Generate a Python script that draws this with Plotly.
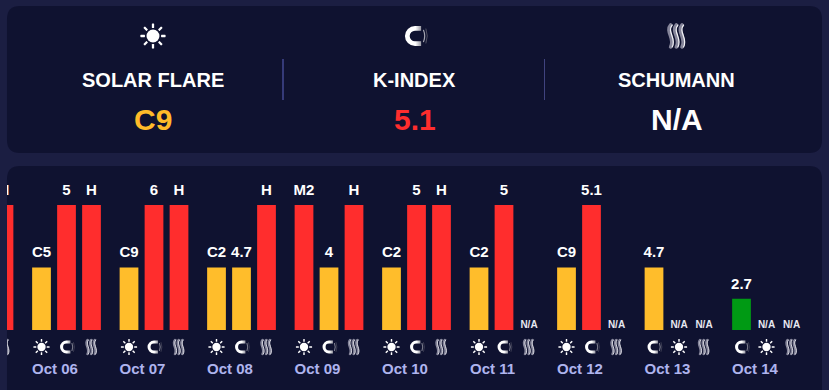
import base64
import plotly.graph_objects as go

W, H = 829, 390

# ---------- data ----------
dates = ["Oct 05", "Oct 06", "Oct 07", "Oct 08", "Oct 09", "Oct 10", "Oct 11", "Oct 12", "Oct 13", "Oct 14"]
slot1_labels = [None, "C5", "C9", "C2", "M2", "C2", "C2", "C9", "4.7", "2.7"]
slot2_labels = [None, "5", "6", "4.7", "4", "5", "5", "5.1", "N/A", "N/A"]
slot3_labels = ["H", "H", "H", "H", "H", "H", "N/A", "N/A", "N/A", "N/A"]
slot1_levels = [None, 2, 2, 2, 4, 2, 2, 2, 2, 1]
slot2_levels = [None, 4, 4, 2, 2, 4, 4, 4, 0, 0]
slot3_levels = [4, 4, 4, 4, 4, 4, 0, 0, 0, 0]
slot1_icons = [None, "sun", "sun", "sun", "sun", "sun", "sun", "sun", "magnet", "magnet"]
slot2_icons = [None, "magnet", "magnet", "magnet", "magnet", "magnet", "magnet", "magnet", "sun", "sun"]
slot3_icons = ["waves"] * 10
summary_titles = ["SOLAR FLARE", "K-INDEX", "SCHUMANN"]
summary_values = ["C9", "5.1", "N/A"]
summary_colors = ["#ffbb29", "#ff2d2d", "#ffffff"]
summary_icons = ["sun", "magnet", "waves"]

# ---------- style ----------
PAGE = "#1b1e42"
CARD = "#0f1230"
RED = "#ff2d2d"
AMBER = "#ffbd2b"
GREEN = "#009a14"
DATE = "#aeb4ee"
FONT = "Liberation Sans, Arial, sans-serif"
LEVEL_COLORS = {4: RED, 2: AMBER, 1: GREEN, 0: CARD}
PLOT_L, PLOT_R, PLOT_T, PLOT_B = 7, 822, 166, 358
ZERO_Y, LEVEL_PX = 330, 31.25
X0, SLOT_PX, SLOTS_PER_DAY = 41.5, 25, 3.5
LABEL_GAP_PX = 6.5


def svg_uri(body):
    svg = f'<svg xmlns="http://www.w3.org/2000/svg" viewBox="0 0 32 32">{body}</svg>'
    return "data:image/svg+xml;base64," + base64.b64encode(svg.encode()).decode()


rays = "".join(
    f'<rect x="14.7" y="1.6" width="2.6" height="5.2" rx="0.6" fill="#fff" transform="rotate({a} 16 16)"/>'
    for a in range(0, 360, 45)
)
waves = "".join(
    f'<path d="M{x} 3.5 C{x - 6.5} 11 {x + 5.5} 19 {x} 28.5" fill="none" stroke="#85859a" stroke-width="4.2" stroke-linecap="round"/>'
    f'<path d="M{x + 1.7} 3.5 C{x - 4.8} 11 {x + 7.2} 19 {x + 1.7} 28.5" fill="none" stroke="#f2f2f6" stroke-width="1.4" stroke-linecap="round"/>'
    for x in (8.8, 15.3, 21.8)
)
ICONS = {
    "sun": svg_uri(f'<circle cx="16" cy="16" r="7.4" fill="#fff"/>{rays}'),
    "magnet": svg_uri(
        '<defs><linearGradient id="g" gradientUnits="userSpaceOnUse" x1="4" x2="24" y1="0" y2="0">'
        '<stop offset="0.62" stop-color="#fff"/><stop offset="1" stop-color="#8a8a96"/></linearGradient></defs>'
        '<path d="M23 7.2 H16 A8.8 8.8 0 0 0 16 24.8 H23" fill="none" stroke="url(#g)" stroke-width="5.4"/>'
        '<path d="M25.6 9 Q28.6 16 25.6 23" fill="none" stroke="#a5a5b0" stroke-width="1.4"/>'
        '<path d="M28.4 7.5 Q31.6 16 28.4 24.5" fill="none" stroke="#5d5d6c" stroke-width="1"/>'
    ),
    "waves": svg_uri(waves),
}


def rounded(x0, y0, x1, y1, r):
    fx = lambda v: f"{v / W:.5f}"
    fy = lambda v: f"{1 - v / H:.5f}"
    return (
        f"M{fx(x0 + r)},{fy(y0)} L{fx(x1 - r)},{fy(y0)} Q{fx(x1)},{fy(y0)} {fx(x1)},{fy(y0 + r)} "
        f"L{fx(x1)},{fy(y1 - r)} Q{fx(x1)},{fy(y1)} {fx(x1 - r)},{fy(y1)} "
        f"L{fx(x0 + r)},{fy(y1)} Q{fx(x0)},{fy(y1)} {fx(x0)},{fy(y1 - r)} "
        f"L{fx(x0)},{fy(y0 + r)} Q{fx(x0)},{fy(y0)} {fx(x0 + r)},{fy(y0)} Z"
    )


bar_x, bar_y, bar_c, big_x, big_y, big_t, small_x, small_y, small_t = [], [], [], [], [], [], [], [], []
images = []
for d in range(len(dates)):
    day_pos = (d - 1) * SLOTS_PER_DAY
    for s, (labels, levels, icons) in enumerate(
        [(slot1_labels, slot1_levels, slot1_icons), (slot2_labels, slot2_levels, slot2_icons), (slot3_labels, slot3_levels, slot3_icons)]
    ):
        if labels[d] is None:
            continue
        x = day_pos + s
        bar_x.append(x)
        bar_y.append(levels[d])
        bar_c.append(LEVEL_COLORS[levels[d]])
        if levels[d] == 0:
            small_x.append(x); small_y.append(0); small_t.append(labels[d])
        else:
            big_x.append(x); big_y.append(levels[d] + LABEL_GAP_PX / LEVEL_PX); big_t.append(labels[d])
        images.append(dict(source=ICONS[icons[d]], xref="x", yref="y", x=x, y=-17 / LEVEL_PX,
                           sizex=18 / SLOT_PX, sizey=18 / LEVEL_PX, xanchor="center", yanchor="middle",
                           sizing="contain", layer="above"))

for cx, icon in zip((153, 415, 677), summary_icons):
    images.append(dict(source=ICONS[icon], xref="paper", yref="paper", x=cx / W, y=1 - 36 / H,
                       sizex=28 / W, sizey=28 / H, xanchor="center", yanchor="middle",
                       sizing="contain", layer="above"))

fig = go.Figure()
fig.add_trace(go.Bar(x=bar_x, y=bar_y, width=0.75, marker=dict(color=bar_c, line_width=0), hoverinfo="skip"))
fig.add_trace(go.Scatter(x=big_x, y=big_y, mode="text", text=big_t, textposition="top center",
                         textfont=dict(family=FONT, size=15, color="#ffffff", weight="bold"), hoverinfo="skip"))
fig.add_trace(go.Scatter(x=small_x, y=small_y, mode="text", text=small_t, textposition="top center",
                         textfont=dict(family=FONT, size=10, color="#e8e8f0", weight="bold"), hoverinfo="skip"))

annotations = []
for cx, title, value, color in zip((152.5, 414.5, 676.5), summary_titles, summary_values, summary_colors):
    annotations.append(dict(xref="paper", yref="paper", x=cx / W, y=1 - 80.5 / H, text=f"<b>{title}</b>", showarrow=False,
                            font=dict(family=FONT, size=20, color="#ffffff"), xanchor="center", yanchor="middle"))
    annotations.append(dict(xref="paper", yref="paper", x=cx / W, y=1 - 119.5 / H, text=f"<b>{value}</b>", showarrow=False,
                            font=dict(family=FONT, size=30, color=color), xanchor="center", yanchor="middle"))

shapes = [
    dict(type="path", xref="paper", yref="paper", path=rounded(7, 6, 822, 153, 13), fillcolor=CARD, line_width=0, layer="below"),
    dict(type="path", xref="paper", yref="paper", path=rounded(7, 166, 822, 410, 13), fillcolor=CARD, line_width=0, layer="below"),
    dict(type="line", xref="paper", yref="paper", x0=283 / W, x1=283 / W, y0=1 - 59 / H, y1=1 - 100 / H, line=dict(color="#474c99", width=1.4)),
    dict(type="line", xref="paper", yref="paper", x0=544.5 / W, x1=544.5 / W, y0=1 - 59 / H, y1=1 - 100 / H, line=dict(color="#40437f", width=1)),
]

tick_vals = [(d - 1) * SLOTS_PER_DAY + (55 - X0) / SLOT_PX for d in range(1, len(dates))]

fig.update_layout(
    width=W, height=H, autosize=False, showlegend=False,
    margin=dict(l=0, r=0, t=0, b=0),
    paper_bgcolor=PAGE, plot_bgcolor="rgba(0,0,0,0)",
    shapes=shapes, images=images, annotations=annotations,
    xaxis=dict(domain=[PLOT_L / W, PLOT_R / W], range=[(PLOT_L - X0) / SLOT_PX, (PLOT_R - X0) / SLOT_PX],
               tickmode="array", tickvals=tick_vals, ticktext=dates[1:], ticks="", ticklen=0,
               showgrid=False, zeroline=False, showline=False, tickangle=0,
               tickfont=dict(family=FONT, size=15, color=DATE, weight="bold")),
    yaxis=dict(domain=[1 - PLOT_B / H, 1 - PLOT_T / H], range=[(ZERO_Y - PLOT_B) / LEVEL_PX, (ZERO_Y - PLOT_T) / LEVEL_PX],
               showgrid=False, zeroline=False, showline=False, showticklabels=False, ticks=""),
)

fig.write_html(
    "out.html",
    config={"displayModeBar": False, "responsive": False},
    post_script="document.body.style.margin='0';document.body.style.overflow='hidden';document.body.style.background='#1b1e42';",
)
